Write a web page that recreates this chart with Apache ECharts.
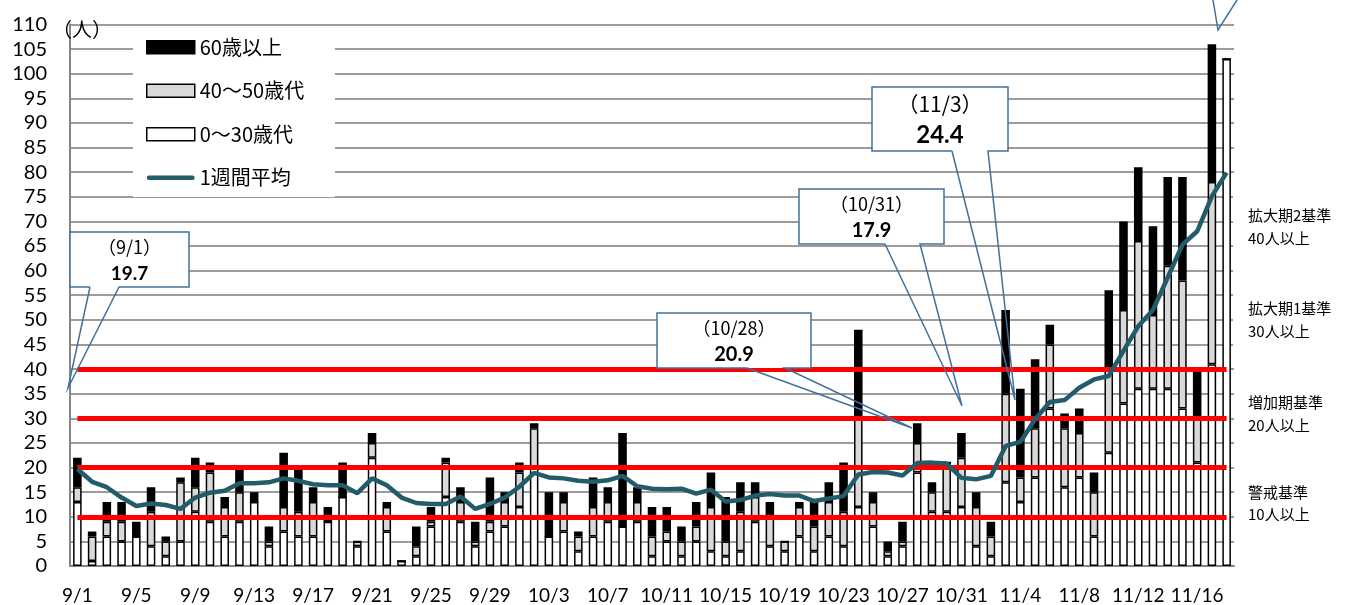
<!DOCTYPE html>
<html><head><meta charset="utf-8">
<script src="https://cdn.jsdelivr.net/npm/echarts@6/dist/echarts.min.js"></script>
<style>html,body{margin:0;padding:0;background:#fff}#c{width:1346px;height:605px}</style>
</head><body><div id="c"></div>
<script>
const dates = ['9/1','9/2','9/3','9/4','9/5','9/6','9/7','9/8','9/9','9/10','9/11','9/12','9/13','9/14','9/15','9/16','9/17','9/18','9/19','9/20','9/21','9/22','9/23','9/24','9/25','9/26','9/27','9/28','9/29','9/30',
'10/1','10/2','10/3','10/4','10/5','10/6','10/7','10/8','10/9','10/10','10/11','10/12','10/13','10/14','10/15','10/16','10/17','10/18','10/19','10/20','10/21','10/22','10/23','10/24','10/25','10/26','10/27','10/28','10/29','10/30','10/31',
'11/1','11/2','11/3','11/4','11/5','11/6','11/7','11/8','11/9','11/10','11/11','11/12','11/13','11/14','11/15','11/16','11/17','11/18'];
// 0〜30歳代
const age0to30 = [13,1,6,5,6,4,2,5,11,9, 6,9,13,4,7,6,6,9,14,4, 22,7,1,2,8,14,9,4,7,8,
 12,20,6,7,3,6,9,8,9,2, 5,2,5,3,2,3,9,4,3,6, 3,6,4,12,8,2,4,19,11,11, 12,
 4,2,17,13,18,32,16,18,6,23, 33,36,36,36,32,21,41,103];
// 40〜50歳代
const age40to50 = [3,5,3,4,0,7,3,12,5,10, 6,6,0,1,5,5,7,0,0,1, 3,5,0,2,1,7,4,1,2,5,
 7,8,0,6,3,6,4,0,4,4, 2,3,3,9,3,8,5,6,2,6, 5,7,7,18,5,1,1,6,4,10, 10,
 8,4,18,5,10,13,12,9,9,17, 19,30,15,25,26,9,37,0];
// 60歳以上
const age60plus = [6,1,4,4,3,5,1,1,6,2, 2,5,2,3,11,9,3,3,7,0, 2,1,0,4,3,1,3,4,9,2,
 2,1,9,2,1,6,3,19,3,6, 5,3,5,7,9,6,3,3,0,1, 5,4,10,18,2,2,4,4,2,0, 5,
 3,3,17,18,14,4,3,5,4,16, 18,15,18,18,21,10,28,0];
// 1週間平均
const weekAvg = [19.7,17.1,16.0,13.9,12.2,12.7,12.4,11.6,13.9,14.9, 15.3,16.8,16.8,17.0,17.8,17.3,16.6,16.4,16.4,14.8, 17.8,16.4,13.9,12.8,12.6,12.6,14.1,11.6,12.6,13.9,
 16.1,18.9,18.0,17.8,17.3,17.1,17.4,18.3,16.2,15.7, 15.6,15.7,14.7,15.5,13.1,13.4,14.3,14.6,14.3,14.3, 13.2,13.7,14.2,18.6,19.1,19.0,18.4,20.9,21.0,20.8, 17.9,
 17.6,18.3,24.4,25.2,29.8,33.3,33.7,36.2,37.9,38.6, 43.7,48.7,52.0,58.6,65.3,68.0,75.1,79.9];
const thresholds = [10,20,30,40];
const thresholdLabels = [['警戒基準','10人以上'],['増加期基準','20人以上'],['拡大期1基準','30人以上'],['拡大期2基準','40人以上']];
const callouts = [
  {date:'(9/1)', value:'19.7'},
  {date:'(10/28)', value:'20.9'},
  {date:'(10/31)', value:'17.9'},
  {date:'(11/3)', value:'24.4'}
];

const FONT = "Lato, 'Noto Sans CJK JP', sans-serif";
const JFONT = "'Noto Sans CJK JP', sans-serif";
const LINE_COLOR = '#225B69';
const chart = echarts.init(document.getElementById('c'), null, {renderer:'canvas'});

const barBase = {type:'bar', stack:'age', barWidth:'58%', barGap:'0%'};
const bs = {borderColor:'#000', borderWidth:1.5};

function callout(box, wedge, tip, t1, t2, f1, f2) {
  const [x,y,w,h] = box;
  const els = [];
  els.push({type:'rect', shape:{x:x,y:y,width:w,height:h}, style:{fill:'#fff', stroke:null}, z:20});
  els.push({type:'polyline', shape:{points:[[wedge[0],y+h],[x,y+h],[x,y],[x+w,y],[x+w,y+h],[wedge[1],y+h],tip,[wedge[0],y+h]]},
    style:{stroke:'#41719C', lineWidth:1.5, fill:null}, z:21});
  els.push({type:'text', x:x+w/2, y:y+h*0.27, style:{text:t1, font:`${f1}px ${JFONT}`, fill:'#000', textAlign:'center', textVerticalAlign:'middle'}, z:22});
  els.push({type:'text', x:x+w/2, y:y+h*0.76, style:{text:t2, font:`bold ${f2}px ${FONT}`, fill:'#000', textAlign:'center', textVerticalAlign:'middle'}, z:22});
  return els;
}
const fw = s => s.replace('(', '（').replace(')', '）');
let graphics = [];
graphics.push({type:'rect', shape:{x:133,y:33,width:202,height:164}, style:{fill:'#fff'}, z:1});
graphics.push({type:'text', x:52, y:29, style:{text:'（人）', font:`20px ${JFONT}`, fill:'#000', textVerticalAlign:'middle'}, z:5});
graphics = graphics.concat(callout([70,232,119,55],[90,119],[68,388], fw(callouts[0].date), callouts[0].value, 18, 19));
graphics = graphics.concat(callout([657,313,154,55],[747,785],[912,428], fw(callouts[1].date), callouts[1].value, 18, 20));
graphics = graphics.concat(callout([799,189,145,55],[885,920],[962,406], fw(callouts[2].date), callouts[2].value, 18, 20));
graphics = graphics.concat(callout([872,87,136,64],[952,988],[1015,400], fw(callouts[3].date), callouts[3].value, 21, 24));
graphics.push({type:'polyline', shape:{points:[[1213,0],[1218,30],[1237,0]]}, style:{stroke:'#41719C', lineWidth:1.5, fill:null}, z:21});
graphics.push({type:'rect', shape:{x:1233,y:184,width:113,height:96}, style:{fill:'#fff'}, z:15});
graphics.push({type:'rect', shape:{x:1233,y:291,width:113,height:77}, style:{fill:'#fff'}, z:15});
const labelY = [[492,514],[402,425],[308,331],[215,238]];
thresholdLabels.forEach((lab,k)=>{
  graphics.push({type:'text', x:1248, y:labelY[k][0], style:{text:lab[0], font:`15px ${JFONT}`, fill:'#000', textVerticalAlign:'middle'}, z:16});
  graphics.push({type:'text', x:1248, y:labelY[k][1], style:{text:lab[1], font:`15px ${JFONT}`, fill:'#000', textVerticalAlign:'middle'}, z:16});
});

chart.setOption({
  animation:false,
  textStyle:{fontFamily:FONT},
  grid:{left:70, right:112, top:24.5, bottom:38},
  legend:{
    orient:'vertical', left:146, top:37, padding:0, itemWidth:48, itemHeight:13, itemGap:23,
    textStyle:{fontSize:20, color:'#000', fontFamily:JFONT, lineHeight:20.5},
    z:10,
    data:[
      {name:'60歳以上', icon:'rect', itemStyle:{color:'#000', borderColor:'#000', borderWidth:1.5}},
      {name:'40～50歳代', icon:'rect', itemStyle:{color:'#D9D9D9', borderColor:'#000', borderWidth:1.5}},
      {name:'0～30歳代', icon:'rect', itemStyle:{color:'#fff', borderColor:'#000', borderWidth:1.5}},
      {name:'1週間平均', icon:'path://M0,0L0.01,0M0,4.2Q0,4.2 2.4,4.2L45.6,4.2Q48,4.2 48,6.5Q48,8.8 45.6,8.8L2.4,8.8Q0,8.8 0,6.5Q0,4.2 2.4,4.2ZM0,13L0.01,13',
        itemStyle:{color:LINE_COLOR, borderWidth:0}}
    ]
  },
  xAxis:{
    type:'category', data:dates, boundaryGap:true,
    axisLine:{lineStyle:{color:'#868686', width:2}},
    axisTick:{show:false},
    axisLabel:{interval:3, fontSize:19, color:'#000', margin:20, fontFamily:FONT},
    splitLine:{show:false}
  },
  yAxis:{
    type:'value', min:0, max:110, interval:5,
    axisLine:{show:true, lineStyle:{color:'#868686', width:2}},
    axisTick:{show:false},
    axisLabel:{fontSize:20, color:'#000', margin:23, fontFamily:FONT},
    splitLine:{lineStyle:{color:'#9C9C9C', width:2}}
  },
  series:[
    Object.assign({name:'0～30歳代', data:age0to30, itemStyle:Object.assign({color:'#fff'},bs)}, barBase),
    Object.assign({name:'40～50歳代', data:age40to50, itemStyle:Object.assign({color:'#D9D9D9'},bs)}, barBase),
    Object.assign({name:'60歳以上', data:age60plus, itemStyle:Object.assign({color:'#000'},bs)}, barBase),
    {name:'基準', type:'line', data:[], z:3, silent:true,
      markLine:{symbol:'none', silent:true, label:{show:false},
        lineStyle:{color:'#FF0000', width:5, type:'solid'},
        data: thresholds.map(v=>[{coord:[dates[0], v]},{coord:[dates[dates.length-1], v]}])}},
    {name:'1週間平均', type:'line', data:weekAvg, symbol:'none', z:5,
      lineStyle:{color:LINE_COLOR, width:4.5}, itemStyle:{color:LINE_COLOR}}
  ],
  graphic:graphics
});
</script></body></html>
